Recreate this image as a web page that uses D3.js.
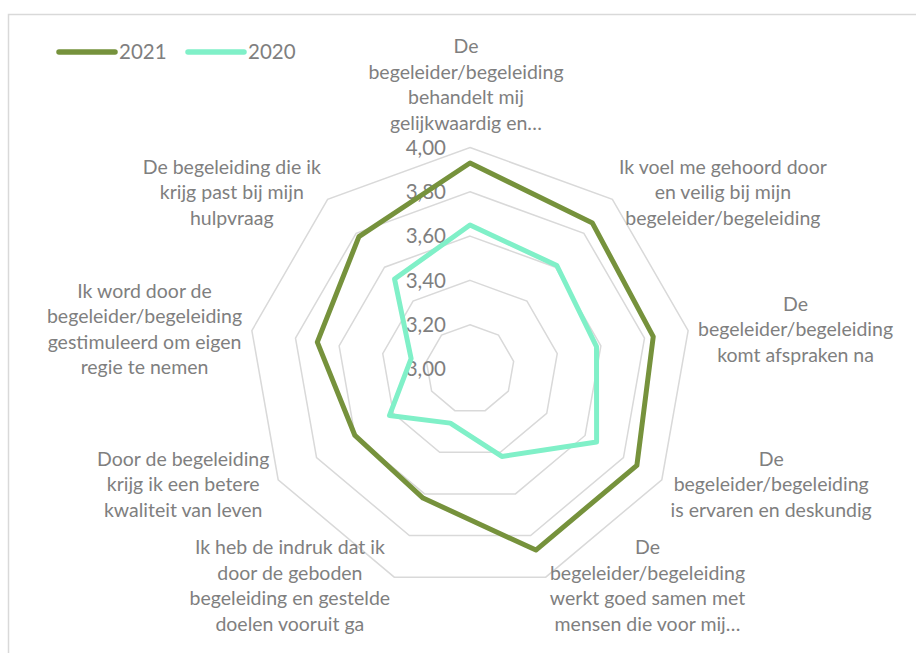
<!DOCTYPE html>
<html lang="nl">
<head>
<meta charset="UTF-8">
<title>Radar 2020 - 2021</title>
<style>
  body { margin: 0; background: #fff; }
  text { font-family: Lato, "Noto Sans", sans-serif; fill: #7f7f7f; }
</style>
</head>
<body>
<script src="https://cdn.jsdelivr.net/npm/d3@7"></script>
<script>
// categories, one array of text lines per axis (clockwise from the top)
const categories = [
  ["De", "begeleider/begeleiding", "behandelt mij", "gelijkwaardig en…"],
  ["Ik voel me gehoord door", "en veilig bij mijn", "begeleider/begeleiding"],
  ["De", "begeleider/begeleiding", "komt afspraken na"],
  ["De", "begeleider/begeleiding", "is ervaren en deskundig"],
  ["De", "begeleider/begeleiding", "werkt goed samen met", "mensen die voor mij…"],
  ["Ik heb de indruk dat ik", "door de geboden", "begeleiding en gestelde", "doelen vooruit ga"],
  ["Door de begeleiding", "krijg ik een betere", "kwaliteit van leven"],
  ["Ik word door de", "begeleider/begeleiding", "gestimuleerd om eigen", "regie te nemen"],
  ["De begeleiding die ik", "krijg past bij mijn", "hulpvraag"]
]
const values2021 = [3.93, 3.86, 3.84, 3.87, 3.87, 3.62, 3.60, 3.70, 3.78]
const values2020 = [3.65, 3.61, 3.58, 3.66, 3.42, 3.26, 3.42, 3.27, 3.53]
const ticks = [3.0, 3.2, 3.4, 3.6, 3.8, 4.0]
const seriesNames = ["2021", "2020"]

const width = 916
const height = 653
const cx = 470
const cy = 369
const radius = 221.5
const colors = { "2021": "#76923c", "2020": "#80f0c8" }

const nl = d3.formatLocale({ decimal: ",", thousands: ".", grouping: [3], currency: ["€", ""] })
const fmt = nl.format(".2f")

let svg = d3.select("body").append("svg")
  .attr("width", width)
  .attr("height", height)

// chart border (cut off at right and bottom)
svg.append("rect")
  .attr("x", 8.5).attr("y", 14.5)
  .attr("width", 1000).attr("height", 1000)
  .attr("fill", "none")
  .attr("stroke", "#d9d9d9")
  .attr("stroke-width", 1.5)

let r = d3.scaleLinear().domain([3, 4]).range([0, radius])
let angle = d3.scaleLinear().domain([0, categories.length]).range([0, 2 * Math.PI])

let g = svg.append("g").attr("transform", "translate(" + cx + "," + cy + ")")

// rings
let ring = d3.lineRadial()
  .angle(function(d, i) { return angle(i) })
  .radius(function(d) { return r(d) })
  .curve(d3.curveLinearClosed)

g.selectAll(".ring")
  .data(ticks.filter(function(t) { return t > 3 }))
  .enter().append("path")
  .attr("class", "ring")
  .attr("d", function(t) { return ring(categories.map(function() { return t })) })
  .attr("fill", "none")
  .attr("stroke", "#d9d9d9")
  .attr("stroke-width", 1.5)

// tick labels
g.selectAll(".tick")
  .data(ticks)
  .enter().append("text")
  .attr("class", "tick")
  .attr("x", -24)
  .attr("y", function(t) { return -r(t) })
  .attr("dy", "0.36em")
  .attr("text-anchor", "end")
  .style("font-size", "20.5px")
  .text(function(t) { return fmt(t) })

// series
let series = [
  { name: "2021", values: values2021 },
  { name: "2020", values: values2020 }
]
g.selectAll(".series")
  .data(series)
  .enter().append("path")
  .attr("class", "series")
  .attr("d", function(s) { return ring(s.values) })
  .attr("fill", "none")
  .attr("stroke", function(s) { return colors[s.name] })
  .attr("stroke-width", 5)
  .attr("stroke-linejoin", "round")

// category labels, placed next to the outer ring vertex
const lineH = 25.5
categories.forEach(function(lines, i) {
  let a = angle(i)
  let vx = Math.sin(a) * radius
  let vy = -Math.cos(a) * radius
  let t = g.append("text").style("font-size", "19.5px")
  let spans = lines.map(function(l) {
    return t.append("tspan").text(l)
  })
  let w = d3.max(spans, function(s) { return s.node().getComputedTextLength() })
  let h = lines.length * lineH
  let gap = 1 + 9 * Math.abs(Math.sin(a))
  let midX, top
  if (i === 0) {
    midX = vx - 4
    top = vy - 12 - h
  } else {
    top = vy - 9 * Math.cos(a) - h / 2
    midX = vx > 0 ? vx + gap + w / 2 : vx - gap - w / 2
  }
  t.attr("text-anchor", "middle")
  spans.forEach(function(s, k) {
    s.attr("x", midX).attr("y", top + lineH * (k + 0.5)).attr("dy", "0.36em")
  })
})

// legend
let legend = svg.append("g")
let legendX = [59, 188]
seriesNames.forEach(function(name, i) {
  legend.append("line")
    .attr("x1", legendX[i]).attr("x2", legendX[i] + 56)
    .attr("y1", 52).attr("y2", 52)
    .attr("stroke", colors[name])
    .attr("stroke-width", 5.5)
    .attr("stroke-linecap", "round")
  legend.append("text")
    .attr("x", legendX[i] + 60)
    .attr("y", 52)
    .attr("dy", "0.36em")
    .style("font-size", "20.5px")
    .text(name)
})
</script>
</body>
</html>
